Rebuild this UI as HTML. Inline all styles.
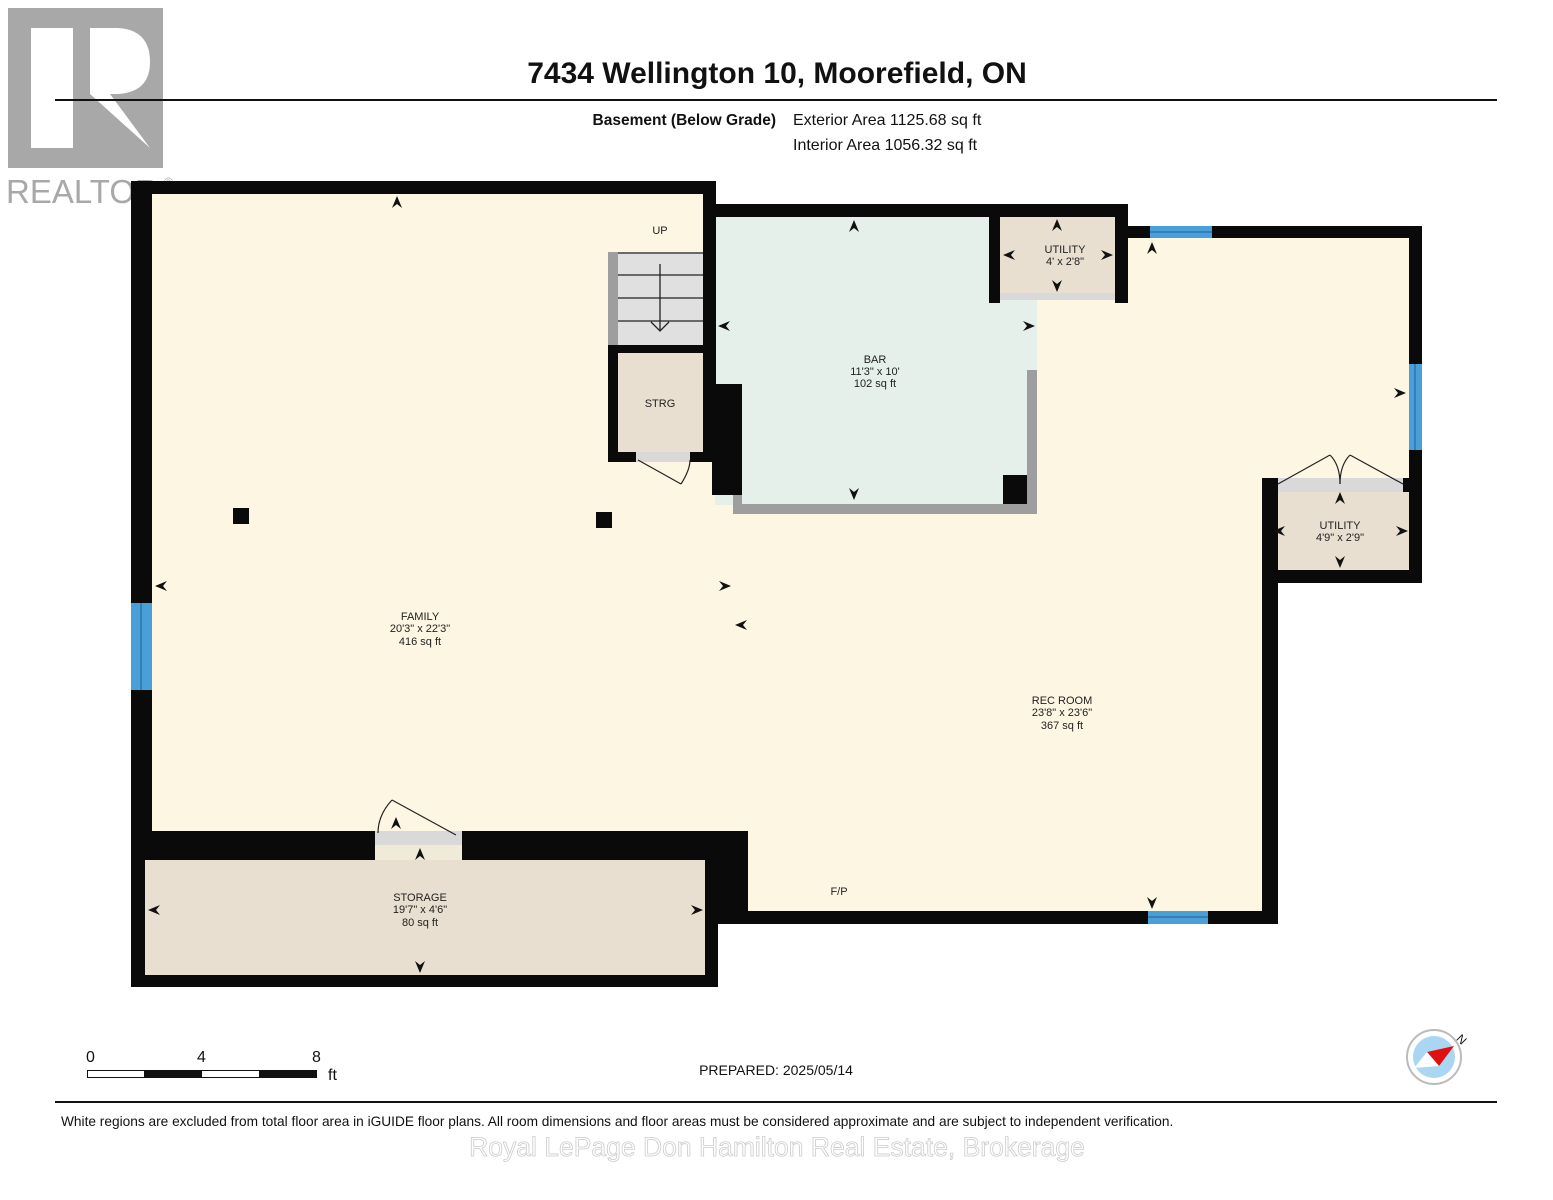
<!DOCTYPE html>
<html><head><meta charset="utf-8"><style>
html,body{margin:0;padding:0;background:#fff;}
svg{display:block;}
text{font-family:"Liberation Sans",Arial,sans-serif;}
</style></head><body>
<svg width="1553" height="1200" viewBox="0 0 1553 1200" xmlns="http://www.w3.org/2000/svg">
<defs>
<path id="a" d="M0,0 L-5,12 L0,8 L5,12 Z" fill="#111"/>
</defs>
<rect x="8" y="8" width="155" height="160" fill="#a8a8a8"/>
<rect x="31" y="28" width="42" height="120" fill="#fff"/>
<path d="M90,28 L118,28 Q150,30 150,62 Q150,92 118,94 L110,94 L150,148 L90,148 Z" fill="#fff"/>
<path d="M90,94 L150,148 L90,148 Z" fill="#a8a8a8"/>
<text x="6" y="203" font-size="33" fill="#a8a8a8">REALTOR</text>
<text x="164" y="186" font-size="12" fill="#a8a8a8">®</text>

<text x="777" y="83" font-size="30" font-weight="bold" text-anchor="middle" fill="#111">7434 Wellington 10, Moorefield, ON</text>
<rect x="55" y="99" width="1442" height="2" fill="#111"/>
<text x="776" y="125" font-size="15.5" font-weight="bold" text-anchor="end" fill="#111">Basement (Below Grade)</text>
<text x="793" y="125" font-size="16" fill="#111">Exterior Area 1125.68 sq ft</text>
<text x="793" y="150" font-size="16" fill="#111">Interior Area 1056.32 sq ft</text>

<rect x="145" y="190" width="570" height="645" fill="#fdf6e3"/>
<rect x="715" y="236" width="700" height="680" fill="#fdf6e3"/>
<rect x="1270" y="570" width="150" height="360" fill="#fff"/>
<rect x="715" y="215" width="322" height="290" fill="#e4f0e9"/>
<rect x="1000" y="215" width="115" height="80" fill="#e8dfd0"/>
<rect x="1270" y="486" width="140" height="86" fill="#e8dfd0"/>
<rect x="1278" y="478" width="125" height="14" fill="#d9d9d9"/>
<rect x="140" y="855" width="570" height="122" fill="#e8dfd0"/>
<rect x="618" y="352" width="86" height="102" fill="#e8dfd0"/>

<rect x="608" y="252" width="96" height="94" fill="#e0e0e0"/>
<rect x="608" y="252" width="10" height="94" fill="#9e9e9e"/>
<g stroke="#222" stroke-width="1.3">
<line x1="618" y1="253" x2="703" y2="253"/><line x1="618" y1="275" x2="703" y2="275"/>
<line x1="618" y1="298" x2="703" y2="298"/><line x1="618" y1="321" x2="703" y2="321"/>
<line x1="660" y1="264" x2="660" y2="331"/><polyline points="651,322 660,331 669,322" fill="none"/>
</g>

<g fill="#0a0a0a">
<rect x="131" y="181" width="585" height="13"/>
<rect x="131" y="181" width="21" height="652"/>
<rect x="131" y="831" width="14" height="156"/>
<rect x="703" y="181" width="13" height="165"/>
<rect x="703" y="204" width="425" height="13"/>
<rect x="989" y="204" width="11" height="99"/>
<rect x="1115" y="204" width="13" height="99"/>
<rect x="1128" y="226" width="294" height="12"/>
<rect x="1409" y="226" width="13" height="357"/>
<rect x="1262" y="478" width="16" height="446"/>
<rect x="1262" y="570" width="160" height="13"/>
<rect x="716" y="911" width="559" height="13"/>
<rect x="716" y="831" width="32" height="93"/>
<rect x="131" y="831" width="244" height="29"/>
<rect x="462" y="831" width="286" height="29"/>
<rect x="705" y="831" width="13" height="156"/>
<rect x="131" y="975" width="587" height="12"/>
<rect x="608" y="345" width="108" height="8"/>
<rect x="608" y="345" width="10" height="117"/>
<rect x="703" y="345" width="13" height="117"/>
<rect x="608" y="452" width="28" height="10"/>
<rect x="690" y="452" width="26" height="10"/>
<rect x="712" y="384" width="30" height="111"/>
<rect x="1003" y="475" width="24" height="29"/>
<rect x="233" y="508" width="16" height="16"/>
<rect x="596" y="512" width="16" height="16"/>
<rect x="1262" y="478" width="16" height="14"/>
<rect x="1403" y="478" width="19" height="14"/>
</g>
<path d="M1027,370 L1037,370 L1037,514 L733,514 L733,495 L742,495 L742,504 L1027,504 Z" fill="#9e9e9e"/>
<rect x="1000" y="293" width="115" height="7" fill="#d9d9d9"/>
<rect x="636" y="452" width="54" height="10" fill="#d9d9d9"/>
<rect x="375" y="831" width="87" height="14" fill="#d9d9d9"/>
<rect x="375" y="845" width="87" height="15" fill="#f0ead8"/>
<g stroke="#222" stroke-width="1.2" fill="none">
<line x1="638" y1="460" x2="681" y2="484"/><path d="M681,484 Q690,470 690,460"/>
<line x1="392" y1="800" x2="456" y2="835"/><path d="M392,800 Q378,815 378,833"/>
<line x1="1278" y1="484" x2="1330" y2="455"/><path d="M1330,455 Q1340,465 1340,484"/>
<line x1="1403" y1="484" x2="1350" y2="455"/><path d="M1350,455 Q1340,465 1340,484"/>
</g>
<g fill="#4a9fd8">
<rect x="131" y="603" width="21" height="87"/>
<rect x="1150" y="226" width="62" height="12"/>
<rect x="1409" y="364" width="13" height="86"/>
<rect x="1148" y="911" width="60" height="13"/>
</g>
<g stroke="#1d5f90" stroke-width="1">
<line x1="141" y1="603" x2="141" y2="690"/><line x1="1150" y1="232" x2="1212" y2="232"/>
<line x1="1415" y1="364" x2="1415" y2="450"/><line x1="1148" y1="917" x2="1208" y2="917"/>
</g>

<use href="#a" transform="translate(397,196)"/>
<use href="#a" transform="translate(854,220)"/>
<use href="#a" transform="translate(854,500) rotate(180)"/>
<use href="#a" transform="translate(718,326) rotate(-90)"/>
<use href="#a" transform="translate(1035,326) rotate(90)"/>
<use href="#a" transform="translate(1057,219)"/>
<use href="#a" transform="translate(1057,292) rotate(180)"/>
<use href="#a" transform="translate(1003,255) rotate(-90)"/>
<use href="#a" transform="translate(1113,255) rotate(90)"/>
<use href="#a" transform="translate(1152,242)"/>
<use href="#a" transform="translate(1406,393) rotate(90)"/>
<use href="#a" transform="translate(1340,492)"/>
<use href="#a" transform="translate(1340,568) rotate(180)"/>
<use href="#a" transform="translate(1273,531) rotate(-90)"/>
<use href="#a" transform="translate(1408,531) rotate(90)"/>
<use href="#a" transform="translate(155,586) rotate(-90)"/>
<use href="#a" transform="translate(731,586) rotate(90)"/>
<use href="#a" transform="translate(735,625) rotate(-90)"/>
<use href="#a" transform="translate(396,817)"/>
<use href="#a" transform="translate(420,848)"/>
<use href="#a" transform="translate(420,973) rotate(180)"/>
<use href="#a" transform="translate(148,910) rotate(-90)"/>
<use href="#a" transform="translate(703,910) rotate(90)"/>
<use href="#a" transform="translate(1152,909) rotate(180)"/>

<g font-size="11" fill="#222" text-anchor="middle">
<text x="660" y="234">UP</text>
<text x="660" y="407">STRG</text>
<text x="875" y="363">BAR</text><text x="875" y="375">11'3" x 10'</text><text x="875" y="387">102 sq ft</text>
<text x="1065" y="253">UTILITY</text><text x="1065" y="265">4' x 2'8"</text>
<text x="1340" y="529">UTILITY</text><text x="1340" y="541">4'9" x 2'9"</text>
<text x="420" y="620">FAMILY</text><text x="420" y="632">20'3" x 22'3"</text><text x="420" y="645">416 sq ft</text>
<text x="1062" y="704">REC ROOM</text><text x="1062" y="716">23'8" x 23'6"</text><text x="1062" y="729">367 sq ft</text>
<text x="420" y="901">STORAGE</text><text x="420" y="913">19'7" x 4'6"</text><text x="420" y="926">80 sq ft</text>
<text x="839" y="895">F/P</text>
</g>

<g font-size="16" fill="#111">
<text x="86" y="1062">0</text><text x="197" y="1062">4</text><text x="312" y="1062">8</text><text x="328" y="1080">ft</text>
</g>
<rect x="87.5" y="1070.5" width="229" height="7" fill="#fff" stroke="#111"/>
<rect x="144" y="1070" width="58" height="8" fill="#111"/>
<rect x="259" y="1070" width="58" height="8" fill="#111"/>
<text x="776" y="1075" font-size="14" text-anchor="middle" fill="#111">PREPARED: 2025/05/14</text>

<circle cx="1434" cy="1057" r="27" fill="#fff" stroke="#bbb" stroke-width="2"/>
<circle cx="1434" cy="1057" r="21" fill="#a9d6f2"/>
<path d="M1454,1046 L1439,1066 L1427,1052 Z" fill="#e01010"/>
<path d="M1414,1068 L1427,1052 L1439,1066 Z" fill="#fff"/>
<text x="1457" y="1044" font-size="12" fill="#111" transform="rotate(45 1462 1040)">N</text>

<rect x="55" y="1101" width="1442" height="2" fill="#111"/>
<text x="61" y="1126" font-size="13.7" fill="#111">White regions are excluded from total floor area in iGUIDE floor plans. All room dimensions and floor areas must be considered approximate and are subject to independent verification.</text>
<text x="777" y="1156" font-size="26.5" text-anchor="middle" fill="#fff" stroke="#ccc" stroke-width="0.8">Royal LePage Don Hamilton Real Estate, Brokerage</text>
</svg>
</body></html>
